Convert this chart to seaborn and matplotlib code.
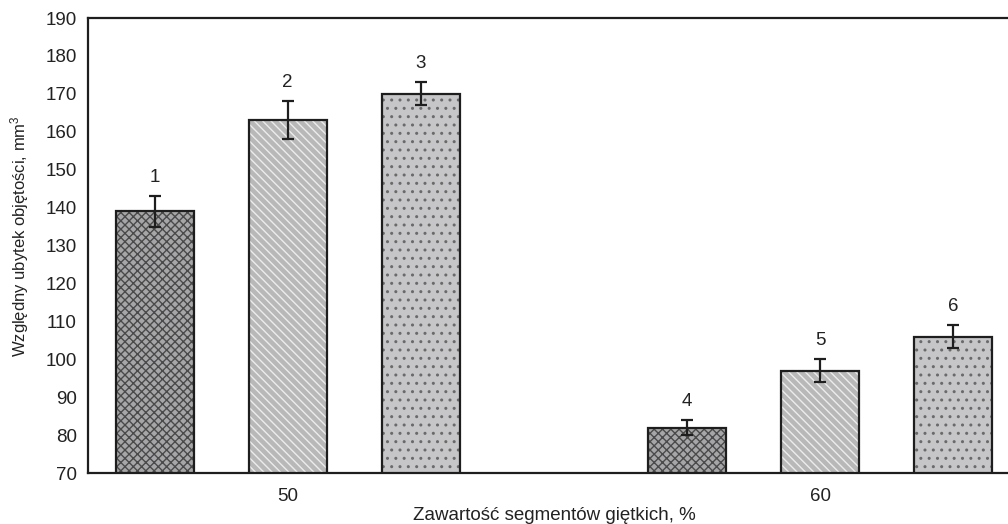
import matplotlib
matplotlib.use("Agg")
import matplotlib.pyplot as plt
import seaborn as sns
import pandas as pd
import numpy as np

# ---- data ----
groups = ["50", "50", "50", "60", "60", "60"]
samples = ["A", "B", "C", "A", "B", "C"]
values = [139, 163, 170, 82, 97, 106]
errors = [4, 5, 3, 2, 3, 3]
bar_labels = ["1", "2", "3", "4", "5", "6"]
y_ticks = [70, 80, 90, 100, 110, 120, 130, 140, 150, 160, 170, 180, 190]
x_label = "Zawartość segmentów giętkich, %"
y_label = "Względny ubytek objętości, mm$^3$"

sns.set_theme(style="white")
plt.rcParams["font.family"] = ["Liberation Sans", "DejaVu Sans"]
plt.rcParams["mathtext.fontset"] = "custom"
plt.rcParams["mathtext.rm"] = "Liberation Sans"
plt.rcParams["mathtext.default"] = "regular"
plt.rcParams["hatch.linewidth"] = 1.0

df = pd.DataFrame({"group": groups, "sample": samples, "value": values,
                   "err": errors, "label": bar_labels})

fig = plt.figure(figsize=(10.08, 5.24), dpi=100)
ax = fig.add_axes([88 / 1008, 51 / 524, 932 / 1008, 455 / 524])

face_colors = {"A": "#a6a6a8", "B": "#b8b8b8", "C": "#c6c6c8"}
sns.barplot(data=df, x="group", y="value", hue="sample", order=["50", "60"],
            hue_order=["A", "B", "C"], palette=face_colors, width=0.75,
            gap=0.414, errorbar=None, legend=False, ax=ax, zorder=2)

hatches = {"A": "xxxx", "B": "\\\\\\\\", "C": ".."}
hatch_cols = {"A": "#4a4a4a", "B": "#ececec", "C": "#6a6a6a"}
for cont, s in zip(ax.containers, ["A", "B", "C"]):
    for p in cont:
        p.set_hatch(hatches[s])
        if hasattr(p, "set_hatchcolor"):
            p.set_hatchcolor(hatch_cols[s])
            p.set_edgecolor("#1e1e1e")
            p.set_linewidth(1.6)
        else:
            p.set_edgecolor(hatch_cols[s])
            p.set_linewidth(0)

# outlines (fallback) and error bars / labels
sub = df.set_index(["sample", "group"])
for cont, s in zip(ax.containers, ["A", "B", "C"]):
    for p, g in zip(cont, ["50", "60"]):
        row = sub.loc[(s, g)]
        xc = p.get_x() + p.get_width() / 2
        if not hasattr(p, "set_hatchcolor"):
            ax.add_patch(plt.Rectangle((p.get_x(), p.get_y()), p.get_width(),
                                       p.get_height(), fill=False,
                                       edgecolor="#1e1e1e", linewidth=1.6,
                                       zorder=3))
        ax.errorbar(xc, row["value"], yerr=row["err"], fmt="none",
                    ecolor="#1e1e1e", elinewidth=1.6, capsize=4,
                    capthick=1.6, zorder=4)
        ax.annotate(row["label"], (xc, row["value"] + row["err"]),
                    xytext=(0, 7.5), textcoords="offset points",
                    ha="center", va="bottom", fontsize=13.5, color="#222222")

ax.set_xlim(-0.375, 1.375)
ax.set_ylim(70, 190)
ax.set_yticks(y_ticks)
ax.tick_params(axis="both", length=0, labelsize=13.5, colors="#222222")
ax.tick_params(axis="y", pad=8)
ax.tick_params(axis="x", pad=11)
ax.set_xlabel(x_label, fontsize=13.5, color="#222222", labelpad=1)
ax.set_ylabel(y_label, fontsize=12, color="#222222", labelpad=8)
ax.yaxis.set_label_coords(-0.061, 0.52)
for sp in ax.spines.values():
    sp.set_visible(True)
    sp.set_color("#1e1e1e")
    sp.set_linewidth(1.6)

fig.savefig("out.png", dpi=100)
